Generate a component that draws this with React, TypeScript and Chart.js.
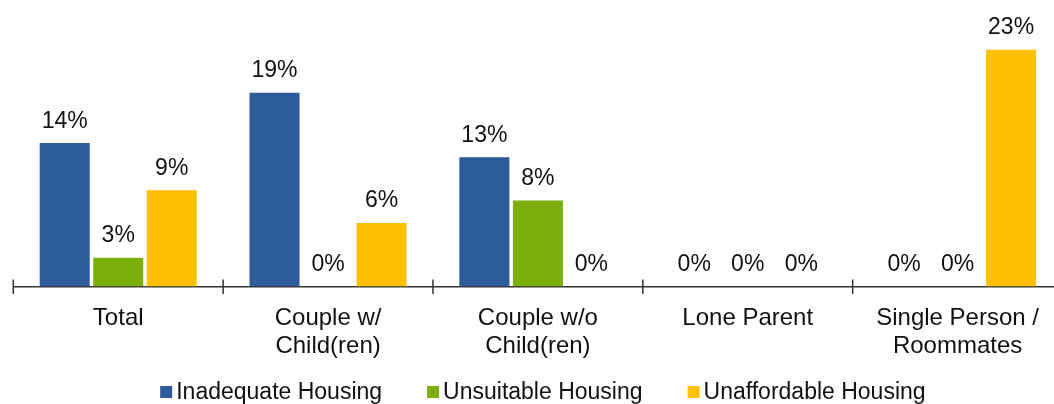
import { useEffect, useRef } from "react";
import { Chart, registerables } from "chart.js";

Chart.register(...registerables);

const FONT = "'Liberation Sans', Arial, sans-serif";

const categories: string[][] = [
  ["Total"],
  ["Couple w/", "Child(ren)"],
  ["Couple w/o", "Child(ren)"],
  ["Lone Parent"],
  ["Single Person /", "Roommates"],
];
const seriesNames = ["Inadequate Housing", "Unsuitable Housing", "Unaffordable Housing"];
const inadequate = [14.0, 18.9, 12.6, 0, 0];
const unsuitable = [2.8, 0, 8.4, 0, 0];
const unaffordable = [9.4, 6.2, 0, 0, 23.1];
const seriesColors = ["#2E5B9A", "#7CAF0C", "#FDC003"];

const boundaryTicks = {
  id: "boundaryTicks",
  afterDatasetsDraw(chart: any) {
    const x = chart.scales.x;
    const n = chart.data.labels.length;
    const step = x.getPixelForValue(1) - x.getPixelForValue(0);
    const yAxis = chart.chartArea.bottom;
    const ctx = chart.ctx;
    ctx.save();
    ctx.strokeStyle = "#333333";
    ctx.lineWidth = 1.5;
    for (let i = 0; i <= n; i++) {
      const px = x.getPixelForValue(i) - step / 2;
      ctx.beginPath();
      ctx.moveTo(px, yAxis - 7);
      ctx.lineTo(px, yAxis + 7.5);
      ctx.stroke();
    }
    ctx.restore();
  },
};

const valueLabels = {
  id: "valueLabels",
  afterDatasetsDraw(chart: any) {
    const ctx = chart.ctx;
    ctx.save();
    ctx.font = `23px ${FONT}`;
    ctx.fillStyle = "#111111";
    ctx.textAlign = "center";
    ctx.textBaseline = "alphabetic";
    chart.data.datasets.forEach((ds: any, di: number) => {
      const meta = chart.getDatasetMeta(di);
      meta.data.forEach((el: any, i: number) => {
        const v = ds.data[i];
        ctx.fillText(`${Math.round(v)}%`, el.x, el.y - 15.5);
      });
    });
    ctx.restore();
  },
};

const bottomLegend = {
  id: "bottomLegend",
  afterDraw(chart: any) {
    const ctx = chart.ctx;
    ctx.save();
    ctx.font = `23px ${FONT}`;
    const box = 12;
    const gap = 4;
    const spacing = 45;
    const items = chart.data.datasets.map((ds: any) => ({
      label: ds.label,
      color: ds.backgroundColor,
      w: ctx.measureText(ds.label).width,
    }));
    const total =
      items.reduce((a: number, it: any) => a + box + gap + it.w, 0) + spacing * (items.length - 1);
    const { left, right } = chart.chartArea;
    let x = (left + right) / 2 + 5 - total / 2;
    const baseline = 399;
    ctx.textBaseline = "alphabetic";
    ctx.textAlign = "left";
    items.forEach((it: any) => {
      ctx.fillStyle = it.color;
      ctx.fillRect(x, 386, box, box);
      ctx.fillStyle = "#111111";
      ctx.fillText(it.label, x + box + gap, baseline);
      x += box + gap + it.w + spacing;
    });
    ctx.restore();
  },
};

export default function App() {
  const ref = useRef<HTMLCanvasElement | null>(null);

  useEffect(() => {
    if (!ref.current) return;
    const seriesData = [inadequate, unsuitable, unaffordable];
    const chart = new Chart(ref.current, {
      type: "bar",
      data: {
        labels: categories,
        datasets: seriesNames.map((name, i) => ({
          label: name,
          data: seriesData[i],
          backgroundColor: seriesColors[i],
          borderWidth: 0,
          categoryPercentage: 0.765,
          barPercentage: 0.935,
        })),
      },
      options: {
        responsive: false,
        animation: false,
        devicePixelRatio: 1,
        layout: { padding: { left: 13.3, right: 7.5, top: 20, bottom: 0 } },
        plugins: {
          legend: { display: false },
          tooltip: { enabled: false },
        },
        scales: {
          x: {
            grid: { display: false, drawTicks: false },
            border: { display: true, color: "#333333", width: 1.5 },
            ticks: {
              padding: 17,
              color: "#111111",
              font: { family: FONT, size: 24 },
              maxRotation: 0,
              autoSkip: false,
            },
            afterFit: (s: any) => {
              s.height = 117.5;
            },
          },
          y: { display: false, min: 0, max: 26 },
        },
      },
      plugins: [boundaryTicks, valueLabels, bottomLegend],
    } as any);
    return () => chart.destroy();
  }, []);

  return (
    <div
      style={{
        position: "absolute",
        left: 0,
        top: 0,
        width: 1054,
        height: 404,
        overflow: "hidden",
        background: "#ffffff",
      }}
    >
      <canvas ref={ref} width={1070} height={404} style={{ display: "block" }} />
    </div>
  );
}
